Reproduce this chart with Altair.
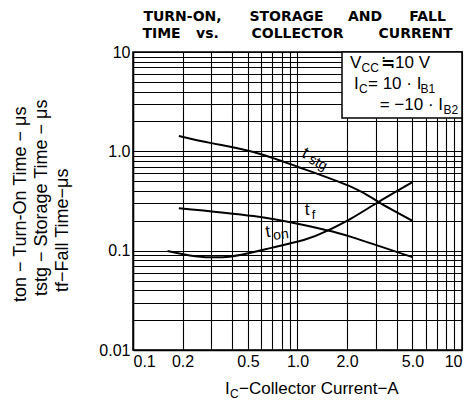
import altair as alt
import pandas as pd

# ---------------- data ----------------
tstg_x = [0.19, 0.3, 0.54, 1.0, 2.14, 3.1, 5.0]
tstg_y = [1.43, 1.21, 0.985, 0.70, 0.437, 0.31, 0.20]
tf_x = [0.19, 0.54, 1.09, 1.5, 2.14, 5.0]
tf_y = [0.268, 0.223, 0.181, 0.161, 0.137, 0.086]
ton_x = [0.162, 0.24, 0.386, 0.62, 1.09, 1.5, 2.14, 3.1, 5.0]
ton_y = [0.0994, 0.088, 0.087, 0.102, 0.128, 0.157, 0.213, 0.309, 0.49]

x_grid = [0.1, 0.2, 0.3, 0.4, 0.5, 0.6, 0.7, 0.8, 0.9,
          1, 2, 3, 4, 5, 6, 7, 8, 9, 10]
x_label_values = [0.1, 0.2, 0.5, 1, 2, 5, 10]
x_label_texts = ["0.1", "0.2", "0.5", "1.0", "2.0", "5.0", "10"]
y_grid = [0.01, 0.02, 0.03, 0.04, 0.05, 0.06, 0.07, 0.08, 0.09,
          0.1, 0.2, 0.3, 0.4, 0.5, 0.6, 0.7, 0.8, 0.9,
          1, 2, 3, 4, 5, 6, 7, 8, 9, 10]
y_label_values = [0.01, 0.1, 1, 10]
y_label_texts = ["0.01", "0.1", "1.0", "10"]

title_line1 = ["TURN-ON,", "STORAGE", "AND", "FALL"]
title_line2 = ["TIME", "vs.", "COLLECTOR", "CURRENT"]
y_title_lines = ["ton − Turn-On Time − μs", "tstg − Storage Time − μs", "tf−Fall Time−μs"]

rows = []
for name, xs, ys in [("tstg", tstg_x, tstg_y), ("tf", tf_x, tf_y), ("ton", ton_x, ton_y)]:
    for i, (a, b) in enumerate(zip(xs, ys)):
        rows.append({"series": name, "ic": a, "t": b, "order": i})
df = pd.DataFrame(rows)

FONT = "Liberation Sans"
# plot origin on the page
OX, OY = 133, 52
W, H = 329, 298


def label_expr(values, texts):
    expr = "''"
    for v, t in reversed(list(zip(values, texts))):
        expr = f"datum.value == {v} ? '{t}' : ({expr})"
    return expr


def txt(text, px, py, size, angle=0, align="left", baseline="alphabetic", bold=False):
    return alt.Chart(pd.DataFrame({"s": [text]})).mark_text(
        align=align, baseline=baseline, fontSize=size, font=FONT if not bold else "DejaVu Sans",
        angle=angle, fontWeight="bold" if bold else "normal", color="black"
    ).encode(text="s:N", x=alt.value(px - OX), y=alt.value(py - OY))


xenc = alt.X("ic:Q", scale=alt.Scale(type="log", domain=[0.1, 10], nice=False),
             axis=alt.Axis(values=x_grid, labelExpr=label_expr(x_label_values, x_label_texts),
                           title=None, grid=True, ticks=False, labelPadding=3,
                           labelOverlap=False, labelFlush=True, labelFontSize=16,
                           labelFont=FONT, labelColor="black"))
yenc = alt.Y("t:Q", scale=alt.Scale(type="log", domain=[0.01, 10], nice=False),
             axis=alt.Axis(values=y_grid, labelExpr=label_expr(y_label_values, y_label_texts),
                           title=None, grid=True, ticks=False, labelPadding=3,
                           labelOverlap=False, labelFlush=False, labelFontSize=16,
                           labelFont=FONT, labelColor="black"))

lines = alt.Chart(df).mark_line(color="black", strokeWidth=2, interpolate="natural").encode(
    x=xenc, y=yenc, detail="series:N", order="order:Q")

box = alt.Chart(pd.DataFrame({"s": [0]})).mark_rect(
    fill="white", stroke="black", strokeWidth=1.5
).encode(x=alt.value(342 - OX), x2=alt.value(W), y=alt.value(0), y2=alt.value(118 - OY))

layers = [lines, box]

# title (word by word, widely spaced as in the reference)
for word, cx in zip(title_line1, [182.5, 286.5, 365, 427.5]):
    layers.append(txt(word, cx, 21, 14, align="center", bold=True))
for word, cx in zip(title_line2, [161.5, 207.5, 297.5, 415.5]):
    layers.append(txt(word, cx, 38, 14, align="center", bold=True))

# y title (rotated)
layers += [txt(y_title_lines[0], 21, 302, 18, angle=270, baseline="middle"),
           txt(y_title_lines[1], 42, 296, 18, angle=270, baseline="middle"),
           txt(y_title_lines[2], 63, 292, 18, angle=270, baseline="middle")]

# x title
layers += [txt("I", 225, 394, 17), txt("C", 230, 398, 12),
           txt("−Collector Current−A", 239, 394, 17)]

# legend box text
layers += [txt("V", 350, 68, 17), txt("CC", 361.5, 72, 12), txt("≒10 V", 381, 68, 17),
           txt("I", 354, 89, 17), txt("C", 359, 93, 12), txt("= 10 · I", 368, 89, 17),
           txt("B1", 420.5, 93, 12),
           txt("= −10 · I", 443, 110, 17, align="right"), txt("B2", 443.5, 114, 12)]

# curve labels
layers += [txt("t", 305, 153, 17, angle=27, align="center", baseline="middle"),
           txt("stg", 318, 163, 14, angle=27, align="center", baseline="middle"),
           txt("t", 307, 210, 17, align="center", baseline="middle"),
           txt("f", 313.5, 215, 13, align="center", baseline="middle"),
           txt("t", 268, 232, 17, angle=352, align="center", baseline="middle"),
           txt("on", 281, 235, 14, angle=352, align="center", baseline="middle")]

chart = alt.layer(*layers).properties(
    width=W, height=H,
    autosize=alt.AutoSizeParams(type="none"),
    padding={"left": OX - 8, "top": OY - 8, "right": 4, "bottom": 50},
).configure_view(
    stroke="black", strokeWidth=1.5
).configure_axis(
    gridColor="black", gridOpacity=1, gridWidth=1.1,
    domainColor="black", domainWidth=1.5
)

chart.save("out.html", embed_options={"renderer": "svg", "actions": False})
